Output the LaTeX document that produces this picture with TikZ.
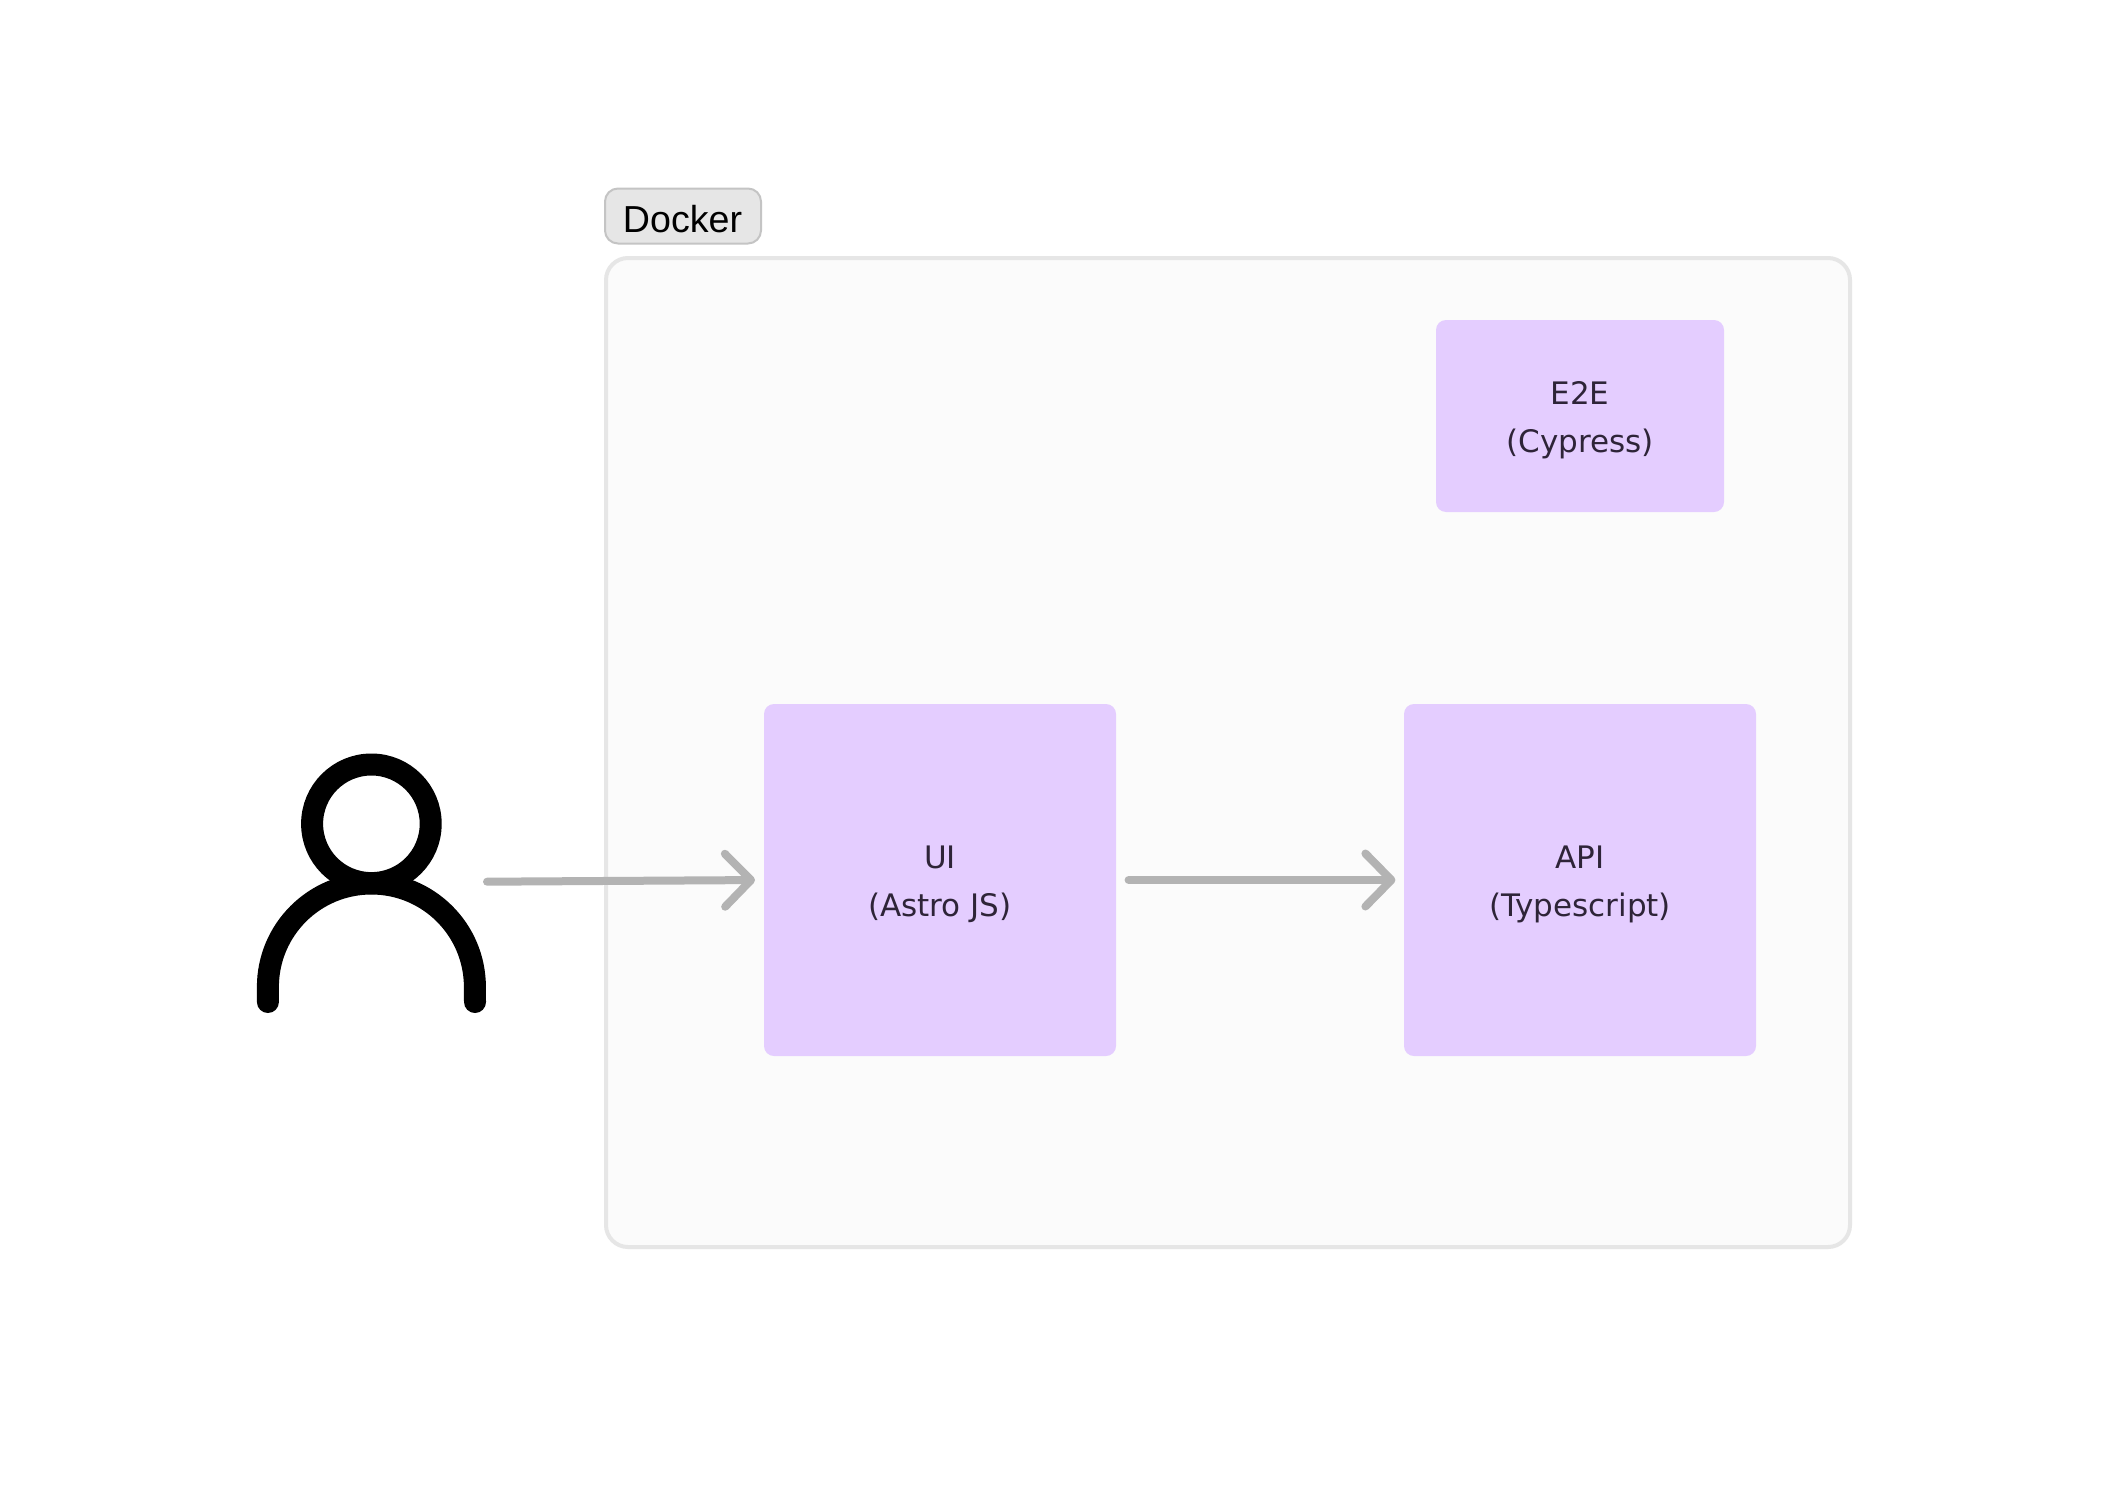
\documentclass[tikz,border=0pt]{standalone}
\usepackage{fontspec}
\setmainfont{Liberation Sans}
\newfontfamily\boxfont{DejaVu Sans}
\usetikzlibrary{arrows.meta}
\definecolor{boxfill}{HTML}{E4CDFF}
\definecolor{boxtext}{HTML}{2E2438}
\definecolor{framefill}{HTML}{FBFBFB}
\definecolor{framedraw}{HTML}{E6E6E6}
\definecolor{tagfill}{HTML}{E6E6E6}
\definecolor{tagdraw}{HTML}{C4C4C4}
\definecolor{flowcol}{HTML}{B3B3B3}
\newcommand{\twolines}[2]{\rule{0pt}{16.25pt}#1\\#2\rule[-4pt]{0pt}{4pt}}
\tikzset{
  service/.style={fill=boxfill,text=boxtext,rounded corners=5pt,inner sep=0pt,outer sep=0pt,align=center,font=\boxfont\fontsize{15.5}{24}\selectfont},
  frame/.style={fill=framefill,draw=framedraw,line width=2pt,rounded corners=11pt},
  tag/.style={fill=tagfill,draw=tagdraw,line width=1pt,rounded corners=6.5pt,inner sep=0pt,outer sep=0pt,minimum width=78pt,minimum height=27.5pt,text height=18.2pt,text depth=1.8pt,text=black,font=\fontsize{18.8}{22}\selectfont},
  flow/.style={draw=flowcol,line width=4pt,line cap=round,-{Straight Barb[length=13pt,width=26.5pt,round]}},
  usericon/.style={draw=black,line width=11pt,line cap=round}
}
\begin{document}
\begin{tikzpicture}[x=0.5pt,y=-0.5pt]
\useasboundingbox (0,0) rectangle (2108,1504);
\fill[white] (0,0) rectangle (2108,1504);
\draw[frame] (606,258) rectangle (1850,1247);
\node[tag] (docker) at (683,216) {Docker\hspace*{0.5pt}};
\node[service,minimum width=144pt,minimum height=96pt] (e2e) at (1580,416) {\twolines{E2E}{(Cypress)}};
\node[service,minimum width=176pt,minimum height=176pt] (ui) at (940,880) {\twolines{UI}{(Astro JS)}};
\node[service,minimum width=176pt,minimum height=176pt] (api) at (1580,880) {\twolines{API}{(Typescript)}};
\draw[usericon] (371.4,823.8) circle[radius=59.3];
\draw[usericon] (267.9,1002) -- (267.9,987) arc[start angle=180,end angle=360,radius=103.5] -- (475,1002);
\coordinate (user) at (487,881.7);
\draw[flow,shorten >=4.5pt] (user) -- (ui.west);
\draw[flow,shorten <=6.3pt,shorten >=4.3pt] (ui.east) -- (api.west);
\end{tikzpicture}
\end{document}
